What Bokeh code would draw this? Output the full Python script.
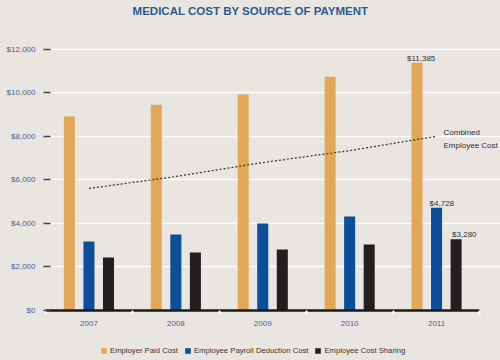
from bokeh.plotting import figure
from bokeh.layouts import column
from bokeh.models import (ColumnDataSource, Range1d, FixedTicker, NumeralTickFormatter,
                          Legend, LegendItem, LabelSet, Label)
from bokeh.core.properties import value
from bokeh.transform import dodge
from bokeh.embed import file_html
from bokeh.resources import INLINE

# ---- data ----
years = [2007, 2008, 2009, 2010, 2011]
employer_paid = [8920, 9460, 9930, 10750, 11385]
payroll_deduction = [3170, 3490, 4000, 4320, 4728]
cost_sharing = [2440, 2670, 2800, 3030, 3280]
combined_cost = [5610, 6160, 6800, 7350, 8008]
y_ticks = [0, 2000, 4000, 6000, 8000, 10000, 12000]
series_names = ["Employer Paid Cost", "Employee Payroll Deduction Cost", "Employee Cost Sharing"]
value_labels_2011 = ["$11,385", "$4,728", "$3,280"]
combined_label = "Combined\nEmployee Cost"
title_text = "MEDICAL COST BY SOURCE OF PAYMENT"

BG = "#E9E6E1"
ORANGE = "#E3A857"
BLUE = "#0B4E9B"
BLACK = "#231F20"
FONT = "Liberation Sans"
TICK_BLUE = "#46639A"
TEXT = "#333333"

src = ColumnDataSource(dict(year=years, emp=employer_paid, ded=payroll_deduction,
                            share=cost_sharing, comb=combined_cost))

x_lo = years[0] - 0.5
x_hi = years[-1] + 0.5
p = figure(width=500, height=345, output_backend="svg", toolbar_location=None, title=None,
           x_range=Range1d(x_lo, x_hi + 0.236), y_range=Range1d(0, 14250),
           min_border_left=45, min_border_right=0, min_border_top=0, min_border_bottom=35)

p.background_fill_color = BG
p.border_fill_color = BG
p.outline_line_color = None

p.add_layout(Label(x=205, y=306, x_units="screen", y_units="screen", text=title_text,
                   text_align="center", text_baseline="top", text_font=FONT,
                   text_font_size="11.5px", text_font_style="bold", text_color="#2B5A93"))

off = 0.225
w = 0.127
r_emp = p.vbar(x=dodge("year", -off), top="emp", width=w, source=src,
               fill_color=ORANGE, line_color=None)
r_ded = p.vbar(x=dodge("year", 0.0), top="ded", width=w, source=src,
               fill_color=BLUE, line_color=None)
r_share = p.vbar(x=dodge("year", off), top="share", width=w, source=src,
                 fill_color=BLACK, line_color=None)

p.line(x="year", y="comb", source=src, line_color="#333333", line_width=1.2, line_dash="2 2")

# value labels for the final year
last = len(years) - 1
label_shift_px = [-10, -7, -4]
for i, (shift, vals) in enumerate([(-off, employer_paid), (0.0, payroll_deduction), (off, cost_sharing)]):
    single = ColumnDataSource(dict(year=[years[last]], val=[vals[last]], text=[value_labels_2011[i]]))
    p.add_layout(LabelSet(x=dodge("year", shift), y="val", text="text", source=single,
                          x_offset=label_shift_px[i], y_offset=2, text_align="left",
                          text_baseline="alphabetic",
                          text_font=value(FONT), text_font_size="8px", text_color=TEXT))

comb_src = ColumnDataSource(dict(year=[years[last]], val=[combined_cost[last]], text=[combined_label]))
p.add_layout(LabelSet(x="year", y="val", text="text", source=comb_src,
                      x_offset=7, y_offset=8, text_align="left", text_baseline="top",
                      text_font=value(FONT), text_font_size="8px", text_color=TEXT,
                      text_line_height=1.45))

# axes
p.yaxis.ticker = FixedTicker(ticks=y_ticks)
p.yaxis.formatter = NumeralTickFormatter(format="$0,0")
p.yaxis.axis_line_color = None
p.yaxis.major_tick_in = 5
p.yaxis.major_tick_out = 2
p.yaxis.major_tick_line_color = "#444444"
p.yaxis.major_tick_line_width = 1.5
p.yaxis.minor_tick_line_color = None
p.yaxis.major_label_standoff = 8
p.yaxis.major_label_text_font = FONT
p.yaxis.major_label_text_font_size = "8px"
p.yaxis.major_label_text_color = TICK_BLUE

p.xaxis.ticker = FixedTicker(ticks=years, minor_ticks=[y - 0.5 for y in years] + [x_hi])
p.xaxis.bounds = (x_lo, x_hi)
p.xaxis.axis_line_color = "#1A1A1A"
p.xaxis.axis_line_width = 2.5
p.xaxis.major_tick_line_color = None
p.xaxis.minor_tick_line_color = "white"
p.xaxis.minor_tick_line_width = 2
p.xaxis.minor_tick_out = 4
p.xaxis.minor_tick_in = 0
p.xaxis.major_label_standoff = 4
p.xaxis.major_label_text_font = FONT
p.xaxis.major_label_text_font_size = "8px"
p.xaxis.major_label_text_color = TICK_BLUE

p.xgrid.grid_line_color = None
p.ygrid.grid_line_color = "white"
p.ygrid.grid_line_alpha = 0.85
p.ygrid.grid_line_width = 1.3

# legend strip below the chart (keys reuse the real series; bars fall outside this strip's range)
lg = figure(width=500, height=15, output_backend="svg", toolbar_location=None, title=None,
            x_range=Range1d(0, 1), y_range=Range1d(0, 1), x_axis_type=None, y_axis_type=None,
            min_border=0)
lg.background_fill_color = BG
lg.border_fill_color = BG
lg.outline_line_color = None
lg.grid.visible = False
k_emp = lg.vbar(x="year", top="emp", width=w, source=src, fill_color=ORANGE, line_color=None)
k_ded = lg.vbar(x="year", top="ded", width=w, source=src, fill_color=BLUE, line_color=None)
k_share = lg.vbar(x="year", top="share", width=w, source=src, fill_color=BLACK, line_color=None)
legend = Legend(items=[LegendItem(label=series_names[0], renderers=[k_emp]),
                       LegendItem(label=series_names[1], renderers=[k_ded]),
                       LegendItem(label=series_names[2], renderers=[k_share])],
                orientation="horizontal", location=(55, 5),
                background_fill_alpha=0, border_line_color=None,
                glyph_width=7, glyph_height=7, label_height=10, label_standoff=3,
                spacing=6, padding=0, margin=0,
                label_text_font=FONT, label_text_font_size="7.7px", label_text_color=TEXT)
lg.add_layout(legend, "center")

layout = column(p, lg, spacing=0)
html = file_html(layout, INLINE)
html = html.replace("<head>", "<head><style>body{background:%s;}</style>" % BG, 1)
open("out.html", "w").write(html)
